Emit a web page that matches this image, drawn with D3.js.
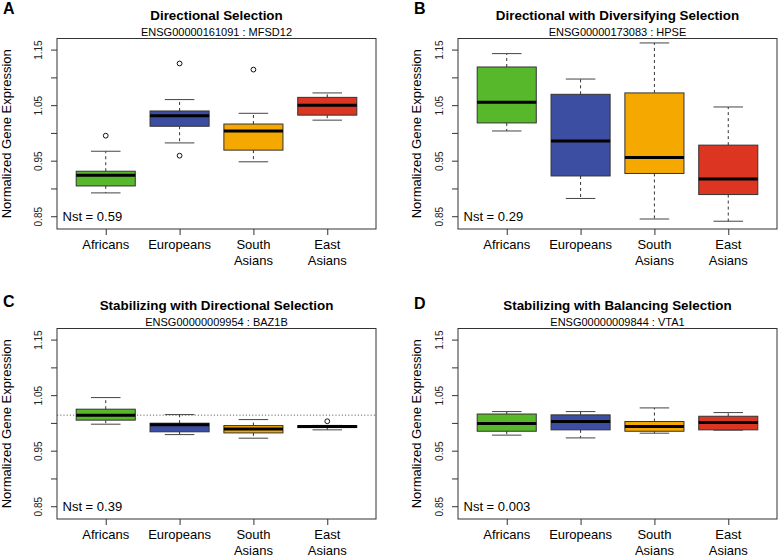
<!DOCTYPE html>
<html>
<head>
<meta charset="utf-8">
<script src="https://cdn.jsdelivr.net/npm/d3@7"></script>
<style>
  html, body { margin: 0; padding: 0; background: #fff; }
  svg { display: block; font-family: "Liberation Sans", Arial, Helvetica, sans-serif; }
</style>
</head>
<body>
<svg id="chart" width="778" height="557"></svg>
<script>
// ---------------- DATA ----------------
const categories = ["Africans", "Europeans", "South Asians", "East Asians"];
const boxColors = ["#56b82a", "#3c4ea2", "#f5a800", "#dc3522"];
const panelLetters = ["A", "B", "C", "D"];
const panelTitles = [
  "Directional Selection",
  "Directional with Diversifying Selection",
  "Stabilizing with Directional Selection",
  "Stabilizing with Balancing Selection"
];
const geneLabels = [
  "ENSG00000161091 : MFSD12",
  "ENSG00000173083 : HPSE",
  "ENSG00000009954 : BAZ1B",
  "ENSG00000009844 : VTA1"
];
const nstLabels = ["Nst = 0.59", "Nst = 0.29", "Nst = 0.39", "Nst = 0.003"];
const yTickValues = [0.85, 0.90, 0.95, 1.00, 1.05, 1.10, 1.15];
const yTickLabels = ["0.85", "", "0.95", "", "1.05", "", "1.15"];

// [lower whisker, Q1, median, Q3, upper whisker] per category
const statsA = [
  [0.892, 0.9045, 0.924, 0.931, 0.967],
  [0.982, 1.012, 1.031, 1.0395, 1.060],
  [0.948, 0.969, 1.0035, 1.016, 1.0353],
  [1.023, 1.032, 1.050, 1.064, 1.072]
];
const outliersA = [[0.995], [1.125, 0.959], [1.114], []];

const statsB = [
  [1.0035, 1.018, 1.0551, 1.1187, 1.1428],
  [0.882, 0.9225, 0.9855, 1.0695, 1.097],
  [0.845, 0.927, 0.9556, 1.072, 1.162],
  [0.841, 0.889, 0.917, 0.978, 1.0467]
];
const outliersB = [[], [], [], []];

const statsC = [
  [0.9977, 1.005, 1.014, 1.0247, 1.0456],
  [0.979, 0.984, 0.9965, 0.9995, 1.015],
  [0.9725, 0.982, 0.989, 0.9952, 1.006],
  [0.9875, 0.9916, 0.9934, 0.995, 0.9955]
];
const outliersC = [[], [], [], [1.003]];
const refLineC = 1.014;

const statsD = [
  [0.978, 0.985, 0.999, 1.016, 1.0204],
  [0.973, 0.9875, 1.0025, 1.0145, 1.0204],
  [0.9815, 0.985, 0.9934, 1.0025, 1.027],
  [0.987, 0.9875, 1.0006, 1.012, 1.0186]
];
const outliersD = [[], [], [], []];

// ---------------- LAYOUT ----------------
const panels = [
  { stats: statsA, outliers: outliersA, ref: null, dx: 0, dy: 0 },
  { stats: statsB, outliers: outliersB, ref: null, dx: 401, dy: 0 },
  { stats: statsC, outliers: outliersC, ref: refLineC, dx: 0, dy: 290 },
  { stats: statsD, outliers: outliersD, ref: null, dx: 401, dy: 290 }
];
const plotLeft = 57, plotRight = 376, plotTop = 38.5, plotBottom = 229;
const letterPos = [[3, 14], [414, 14], [3, 307], [414, 309]];
const yLabelX = [11, 421, 11, 421];

const svg = d3.select("#chart");

panels.forEach((p, pi) => {
  const g = svg.append("g").attr("transform", `translate(${p.dx},${p.dy})`);
  const x = d3.scaleLinear().domain([0.34, 4.66]).range([plotLeft, plotRight]);
  const y = d3.scaleLinear().domain([0.827, 1.170]).range([plotBottom, plotTop]);
  const cx = i => x(i + 1);
  const halfW = x(1.4) - x(1);

  // panel letter (absolute)
  svg.append("text")
    .attr("x", letterPos[pi][0]).attr("y", letterPos[pi][1])
    .attr("font-size", 16).attr("font-weight", "bold")
    .text(panelLetters[pi]);

  // title & subtitle
  const mid = (plotLeft + plotRight) / 2;
  g.append("text").attr("x", mid).attr("y", 19.5)
    .attr("text-anchor", "middle").attr("font-size", 13.4).attr("font-weight", "bold")
    .text(panelTitles[pi]);
  g.append("text").attr("x", mid).attr("y", 35.5)
    .attr("text-anchor", "middle").attr("font-size", 11)
    .text(geneLabels[pi]);

  // y axis label
  svg.append("text")
    .attr("transform", `translate(${yLabelX[pi]},${p.dy + (plotTop + plotBottom) / 2}) rotate(-90)`)
    .attr("text-anchor", "middle").attr("font-size", 13)
    .text("Normalized Gene Expression");

  // y axis
  const yAxis = d3.axisLeft(y).tickValues(yTickValues).tickSize(6)
    .tickFormat((d, i) => yTickLabels[i]);
  const ya = g.append("g").attr("transform", `translate(${plotLeft},0)`).call(yAxis);
  ya.select(".domain").remove();
  ya.selectAll(".tick line").attr("stroke", "#333");
  ya.selectAll(".tick text")
    .attr("font-size", 10).attr("fill", "#222")
    .attr("font-family", "\"Liberation Sans\", Arial, sans-serif")
    .attr("text-anchor", "middle").attr("dy", null)
    .attr("transform", "translate(-15.5,0) rotate(-90)")
    .attr("x", 0).attr("y", 0);

  // x axis
  const xAxis = d3.axisBottom(x).tickValues([1, 2, 3, 4]).tickSize(6).tickFormat("");
  const xa = g.append("g").attr("transform", `translate(0,${plotBottom})`).call(xAxis);
  xa.select(".domain").remove();
  xa.selectAll(".tick line").attr("stroke", "#333");
  categories.forEach((c, i) => {
    const lines = c.split(" ");
    const t = g.append("text").attr("x", cx(i)).attr("y", plotBottom + 20)
      .attr("text-anchor", "middle").attr("font-size", 13);
    lines.forEach((ln, li) => {
      t.append("tspan").attr("x", cx(i)).attr("dy", li === 0 ? 0 : 15.5).text(ln);
    });
  });

  // reference line
  if (p.ref !== null) {
    g.append("line")
      .attr("x1", plotLeft).attr("x2", plotRight)
      .attr("y1", y(p.ref)).attr("y2", y(p.ref))
      .attr("stroke", "#555").attr("stroke-width", 0.9).attr("stroke-dasharray", "1.2,2");
  }

  // boxes
  p.stats.forEach((s, i) => {
    const [lo, q1, med, q3, hi] = s;
    const c = cx(i);
    // whiskers
    g.append("line").attr("x1", c).attr("x2", c).attr("y1", y(q3)).attr("y2", y(hi))
      .attr("stroke", "#333").attr("stroke-dasharray", "3,3");
    g.append("line").attr("x1", c).attr("x2", c).attr("y1", y(q1)).attr("y2", y(lo))
      .attr("stroke", "#333").attr("stroke-dasharray", "3,3");
    g.append("line").attr("x1", c - halfW / 2).attr("x2", c + halfW / 2)
      .attr("y1", y(hi)).attr("y2", y(hi)).attr("stroke", "#444");
    g.append("line").attr("x1", c - halfW / 2).attr("x2", c + halfW / 2)
      .attr("y1", y(lo)).attr("y2", y(lo)).attr("stroke", "#444");
    // box
    g.append("rect").attr("x", c - halfW).attr("width", 2 * halfW)
      .attr("y", y(q3)).attr("height", y(q1) - y(q3))
      .attr("fill", boxColors[i]).attr("stroke", "#333").attr("stroke-width", 1);
    // median
    g.append("line").attr("x1", c - halfW).attr("x2", c + halfW)
      .attr("y1", y(med)).attr("y2", y(med))
      .attr("stroke", "#000").attr("stroke-width", 3);
    // outliers
    p.outliers[i].forEach(o => {
      g.append("circle").attr("cx", c).attr("cy", y(o)).attr("r", 2.4)
        .attr("fill", "none").attr("stroke", "#111").attr("stroke-width", 1);
    });
  });

  // plot frame
  g.append("rect").attr("x", plotLeft).attr("y", plotTop)
    .attr("width", plotRight - plotLeft).attr("height", plotBottom - plotTop)
    .attr("fill", "none").attr("stroke", "#333").attr("stroke-width", 1);

  // Nst label
  g.append("text").attr("x", plotLeft + 5.5).attr("y", 221)
    .attr("font-size", 13).text(nstLabels[pi]);
});
</script>
</body>
</html>
